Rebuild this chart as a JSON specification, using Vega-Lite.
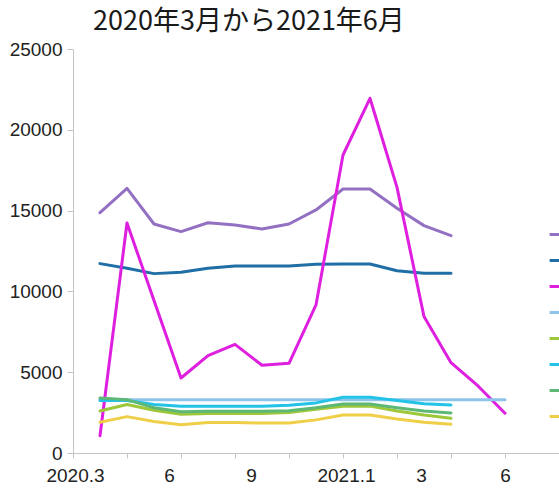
{
  "$schema": "https://vega.github.io/schema/vega-lite/v6.json",
  "width": 486,
  "height": 404,
  "padding": {"left": 9, "top": 8, "right": 0, "bottom": 0},
  "background": "white",
  "title": {
    "text": "2020年3月から2021年6月",
    "anchor": "start",
    "frame": "group",
    "dx": 20,
    "offset": 4,
    "font": "Noto Sans CJK JP",
    "fontSize": 27,
    "fontWeight": "normal",
    "color": "#1a1a1a"
  },
  "config": {
    "view": {"stroke": null},
    "axis": {"labelFont": "Liberation Sans", "labelFontSize": 19, "labelColor": "#222", "domainColor": "#c4c4c4", "tickColor": "#c4c4c4", "grid": false, "title": null}
  },
  "data": {
    "values": [
      {"s": "系列1", "m": 0, "v": 14870}, {"s": "系列1", "m": 1, "v": 16380}, {"s": "系列1", "m": 2, "v": 14170}, {"s": "系列1", "m": 3, "v": 13700},
      {"s": "系列1", "m": 4, "v": 14250}, {"s": "系列1", "m": 5, "v": 14110}, {"s": "系列1", "m": 6, "v": 13860}, {"s": "系列1", "m": 7, "v": 14170},
      {"s": "系列1", "m": 8, "v": 15040}, {"s": "系列1", "m": 9, "v": 16340}, {"s": "系列1", "m": 10, "v": 16340}, {"s": "系列1", "m": 11, "v": 15140},
      {"s": "系列1", "m": 12, "v": 14070}, {"s": "系列1", "m": 13, "v": 13450},

      {"s": "系列2", "m": 0, "v": 11720}, {"s": "系列2", "m": 1, "v": 11430}, {"s": "系列2", "m": 2, "v": 11100}, {"s": "系列2", "m": 3, "v": 11180},
      {"s": "系列2", "m": 4, "v": 11430}, {"s": "系列2", "m": 5, "v": 11570}, {"s": "系列2", "m": 6, "v": 11570}, {"s": "系列2", "m": 7, "v": 11570},
      {"s": "系列2", "m": 8, "v": 11680}, {"s": "系列2", "m": 9, "v": 11700}, {"s": "系列2", "m": 10, "v": 11700}, {"s": "系列2", "m": 11, "v": 11280},
      {"s": "系列2", "m": 12, "v": 11120}, {"s": "系列2", "m": 13, "v": 11120},

      {"s": "系列3", "m": 0, "v": 1070}, {"s": "系列3", "m": 1, "v": 14230}, {"s": "系列3", "m": 2, "v": 9430}, {"s": "系列3", "m": 3, "v": 4640},
      {"s": "系列3", "m": 4, "v": 6020}, {"s": "系列3", "m": 5, "v": 6720}, {"s": "系列3", "m": 6, "v": 5430}, {"s": "系列3", "m": 7, "v": 5550},
      {"s": "系列3", "m": 8, "v": 9160}, {"s": "系列3", "m": 9, "v": 18440}, {"s": "系列3", "m": 10, "v": 21950}, {"s": "系列3", "m": 11, "v": 16440},
      {"s": "系列3", "m": 12, "v": 8440}, {"s": "系列3", "m": 13, "v": 5590}, {"s": "系列3", "m": 14, "v": 4150}, {"s": "系列3", "m": 15, "v": 2460},

      {"s": "系列4", "m": 0, "v": 3300}, {"s": "系列4", "m": 1, "v": 3300}, {"s": "系列4", "m": 2, "v": 3300}, {"s": "系列4", "m": 3, "v": 3300},
      {"s": "系列4", "m": 4, "v": 3300}, {"s": "系列4", "m": 5, "v": 3300}, {"s": "系列4", "m": 6, "v": 3300}, {"s": "系列4", "m": 7, "v": 3300},
      {"s": "系列4", "m": 8, "v": 3300}, {"s": "系列4", "m": 9, "v": 3300}, {"s": "系列4", "m": 10, "v": 3300}, {"s": "系列4", "m": 11, "v": 3300},
      {"s": "系列4", "m": 12, "v": 3300}, {"s": "系列4", "m": 13, "v": 3300}, {"s": "系列4", "m": 14, "v": 3300}, {"s": "系列4", "m": 15, "v": 3300},

      {"s": "系列5", "m": 0, "v": 2600}, {"s": "系列5", "m": 1, "v": 3000}, {"s": "系列5", "m": 2, "v": 2650}, {"s": "系列5", "m": 3, "v": 2400},
      {"s": "系列5", "m": 4, "v": 2450}, {"s": "系列5", "m": 5, "v": 2450}, {"s": "系列5", "m": 6, "v": 2450}, {"s": "系列5", "m": 7, "v": 2500},
      {"s": "系列5", "m": 8, "v": 2700}, {"s": "系列5", "m": 9, "v": 2900}, {"s": "系列5", "m": 10, "v": 2900}, {"s": "系列5", "m": 11, "v": 2600},
      {"s": "系列5", "m": 12, "v": 2350}, {"s": "系列5", "m": 13, "v": 2150},

      {"s": "系列6", "m": 0, "v": 3250}, {"s": "系列6", "m": 1, "v": 3250}, {"s": "系列6", "m": 2, "v": 3000}, {"s": "系列6", "m": 3, "v": 2900},
      {"s": "系列6", "m": 4, "v": 2900}, {"s": "系列6", "m": 5, "v": 2900}, {"s": "系列6", "m": 6, "v": 2900}, {"s": "系列6", "m": 7, "v": 2950},
      {"s": "系列6", "m": 8, "v": 3100}, {"s": "系列6", "m": 9, "v": 3450}, {"s": "系列6", "m": 10, "v": 3450}, {"s": "系列6", "m": 11, "v": 3250},
      {"s": "系列6", "m": 12, "v": 3050}, {"s": "系列6", "m": 13, "v": 2970},

      {"s": "系列7", "m": 0, "v": 3400}, {"s": "系列7", "m": 1, "v": 3300}, {"s": "系列7", "m": 2, "v": 2800}, {"s": "系列7", "m": 3, "v": 2550},
      {"s": "系列7", "m": 4, "v": 2580}, {"s": "系列7", "m": 5, "v": 2580}, {"s": "系列7", "m": 6, "v": 2580}, {"s": "系列7", "m": 7, "v": 2620},
      {"s": "系列7", "m": 8, "v": 2800}, {"s": "系列7", "m": 9, "v": 3030}, {"s": "系列7", "m": 10, "v": 3030}, {"s": "系列7", "m": 11, "v": 2800},
      {"s": "系列7", "m": 12, "v": 2600}, {"s": "系列7", "m": 13, "v": 2480},

      {"s": "系列8", "m": 0, "v": 1900}, {"s": "系列8", "m": 1, "v": 2250}, {"s": "系列8", "m": 2, "v": 1950}, {"s": "系列8", "m": 3, "v": 1750},
      {"s": "系列8", "m": 4, "v": 1880}, {"s": "系列8", "m": 5, "v": 1880}, {"s": "系列8", "m": 6, "v": 1850}, {"s": "系列8", "m": 7, "v": 1850},
      {"s": "系列8", "m": 8, "v": 2050}, {"s": "系列8", "m": 9, "v": 2350}, {"s": "系列8", "m": 10, "v": 2350}, {"s": "系列8", "m": 11, "v": 2100},
      {"s": "系列8", "m": 12, "v": 1900}, {"s": "系列8", "m": 13, "v": 1780}
    ]
  },
  "mark": {"type": "line", "strokeWidth": 3, "strokeCap": "round", "strokeJoin": "round", "clip": false},
  "encoding": {
    "x": {
      "field": "m",
      "type": "quantitative",
      "scale": {"domain": [-1, 17], "nice": false, "zero": false},
      "axis": {
        "values": [-1, 1, 3, 5, 7, 9, 11, 13, 15],
        "tickSize": 5,
        "labelPadding": 8,
        "labelFlush": false,
        "labelOverlap": false,
        "labelBound": false,
        "labelExpr": "datum.value == -1 ? '2020.3' : datum.value == 3 ? '6' : datum.value == 5 ? '9' : datum.value == 9 ? '2021.1' : datum.value == 11 ? '3' : datum.value == 15 ? '6' : ''",
        "labelOffset": {
          "condition": [
            {"test": "datum.value == 3", "value": -12},
            {"test": "datum.value == 5", "value": 16},
            {"test": "datum.value == 9", "value": 3},
            {"test": "datum.value == 11", "value": 24},
            {"test": "datum.value == -1", "value": 2}
          ],
          "value": 0
        }
      }
    },
    "y": {
      "field": "v",
      "type": "quantitative",
      "scale": {"domain": [0, 25000], "nice": false},
      "axis": {"values": [0, 5000, 10000, 15000, 20000, 25000], "format": "d", "tickSize": 6, "labelPadding": 5}
    },
    "color": {
      "field": "s",
      "type": "nominal",
      "scale": {
        "domain": ["系列1", "系列2", "系列3", "系列4", "系列5", "系列6", "系列7", "系列8"],
        "range": ["#9370c2", "#1f6fa6", "#de1fe0", "#8cc4ea", "#9fc73a", "#22c3e6", "#5cb874", "#f0cf48"]
      },
      "legend": {
        "orient": "none",
        "legendX": 475,
        "legendY": 176,
        "title": null,
        "symbolType": "stroke",
        "symbolStrokeWidth": 3,
        "symbolSize": 250,
        "labelExpr": "''",
        "labelFontSize": 16,
        "rowPadding": 8
      }
    }
  }
}
